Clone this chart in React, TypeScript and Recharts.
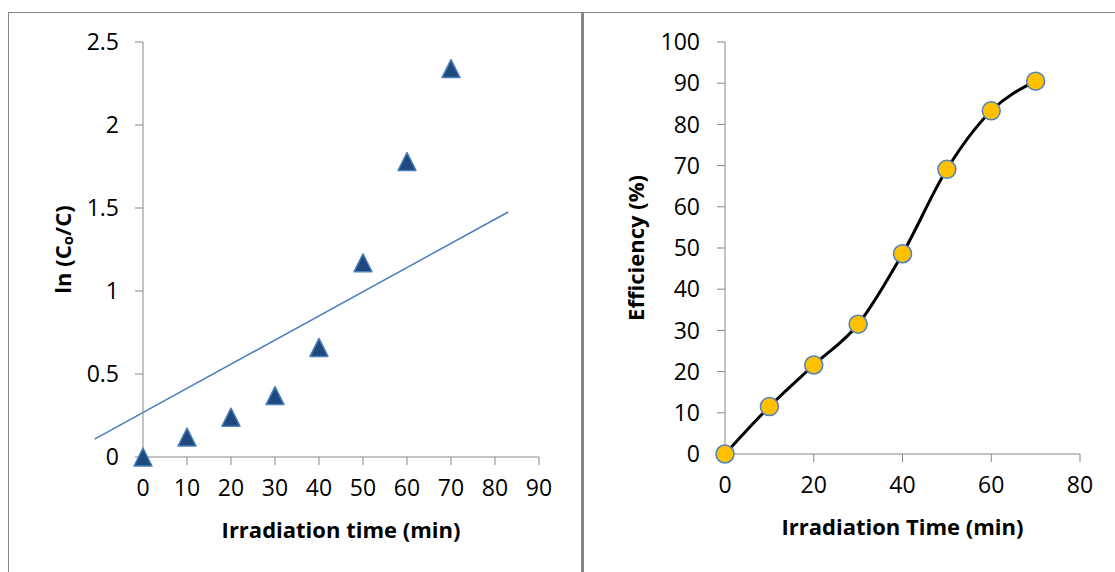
import React from "react";
import { ScatterChart, Scatter, LineChart, Line, XAxis, YAxis, ReferenceLine, Label } from "recharts";

// values
const timeMin = [0, 10, 20, 30, 40, 50, 60, 70];
const lnRatio = [0, 0.12, 0.24, 0.37, 0.66, 1.17, 1.78, 2.34];
const efficiency = [0, 11.5, 21.6, 31.5, 48.6, 69.1, 83.3, 90.5];

// linear trendline drawn in the left chart (end points)
const trendX = [-11, 83];
const trendY = [0.108, 1.476];

const leftXTicks = [0, 10, 20, 30, 40, 50, 60, 70, 80, 90];
const leftYTicks = [0, 0.5, 1, 1.5, 2, 2.5];
const rightXTicks = [0, 20, 40, 60, 80];
const rightYTicks = [0, 10, 20, 30, 40, 50, 60, 70, 80, 90, 100];

const leftData = timeMin.map((t, i) => ({ t, v: lnRatio[i] }));
const rightData = timeMin.map((t, i) => ({ t, eff: efficiency[i] }));

const FONT = "'Open Sans', Lato, sans-serif";
const AXIS = "#868686";
const tickStyle = { fill: "#000", fontSize: 23, fontFamily: FONT };

// excel-style triangle marker
function Tri(props: any) {
  const { cx, cy } = props;
  const w = 9;
  const h = 9;
  return (
    <polygon
      points={`${cx},${cy - h} ${cx + w},${cy + h} ${cx - w},${cy + h}`}
      fill="#1F497D"
      stroke="#4A7EBB"
      strokeWidth={1.5}
      strokeLinejoin="round"
    />
  );
}

function XTitle(props: any) {
  const vb = props.viewBox || {};
  return (
    <text
      x={vb.x + vb.width / 2}
      y={vb.y + 81}
      textAnchor="middle"
      fontFamily={FONT}
      fontWeight={700}
      fontSize={22}
      fill="#000"
    >
      {props.text}
    </text>
  );
}

function YTitle(props: any) {
  const vb = props.viewBox || {};
  const cx = props.cx;
  const cy = vb.y + vb.height / 2;
  return (
    <text
      x={cx}
      y={cy}
      transform={`rotate(-90 ${cx} ${cy})`}
      textAnchor="middle"
      dominantBaseline="central"
      fontFamily={FONT}
      fontWeight={700}
      fontSize={22}
      fill="#000"
    >
      {props.sub ? (
        <>
          <tspan>ln (C</tspan>
          <tspan dy={5} fontSize={15}>o</tspan>
          <tspan dy={-5}>/C)</tspan>
        </>
      ) : (
        props.text
      )}
    </text>
  );
}

export default function App() {
  return (
    <div style={{ position: "absolute", left: 0, top: 0, width: 1115, height: 572, background: "#fff", overflow: "hidden" }}>
      {/* panel frames */}
      <div style={{ position: "absolute", left: 8, top: 12, width: 572, height: 600, border: `1px solid ${AXIS}`, borderRightWidth: 2 }} />
      <div style={{ position: "absolute", left: 582, top: 12, width: 600, height: 600, border: `1px solid ${AXIS}`, borderLeftWidth: 2 }} />

      <div style={{ position: "absolute", left: 8, top: 12 }}>
        <ScatterChart width={573} height={560} margin={{ top: 30, right: 42, bottom: 0, left: 0 }}>
          <XAxis
            type="number"
            dataKey="t"
            domain={[0, 90]}
            ticks={leftXTicks}
            height={115}
            stroke={AXIS}
            tickSize={8}
            tickMargin={15}
            tick={tickStyle}
            interval={0}
          >
            <Label content={(p: any) => <XTitle {...p} text="Irradiation time (min)" />} />
          </XAxis>
          <YAxis
            type="number"
            dataKey="v"
            domain={[0, 2.5]}
            ticks={leftYTicks}
            width={135}
            stroke={AXIS}
            tickSize={8}
            tickMargin={16}
            tick={tickStyle}
            interval={0}
          >
            <Label content={(p: any) => <YTitle {...p} cx={54} sub />} />
          </YAxis>
          <ReferenceLine
            segment={[
              { x: trendX[0], y: trendY[0] },
              { x: trendX[1], y: trendY[1] },
            ]}
            stroke="#4A7EBB"
            strokeWidth={1.5}
            ifOverflow="visible"
          />
          <Scatter data={leftData} shape={Tri} isAnimationActive={false} />
        </ScatterChart>
      </div>

      <div style={{ position: "absolute", left: 584, top: 12 }}>
        <LineChart width={531} height={560} data={rightData} margin={{ top: 30, right: 35, bottom: 0, left: 0 }}>
          <XAxis
            type="number"
            dataKey="t"
            domain={[0, 80]}
            ticks={rightXTicks}
            height={118}
            stroke={AXIS}
            tickSize={8}
            tickMargin={15}
            tick={tickStyle}
            interval={0}
          >
            <Label content={(p: any) => <XTitle {...p} text="Irradiation Time (min)" />} />
          </XAxis>
          <YAxis
            type="number"
            domain={[0, 100]}
            ticks={rightYTicks}
            width={141}
            stroke={AXIS}
            tickSize={8}
            tickMargin={17}
            tick={tickStyle}
            interval={0}
          >
            <Label content={(p: any) => <YTitle {...p} cx={51} text="Efficiency (%)" />} />
          </YAxis>
          <Line
            type="monotone"
            dataKey="eff"
            stroke="#000"
            strokeWidth={3}
            dot={{ r: 9, fill: "#FFC000", stroke: "#4F81BD", strokeWidth: 1.5 }}
            isAnimationActive={false}
          />
        </LineChart>
      </div>
    </div>
  );
}
